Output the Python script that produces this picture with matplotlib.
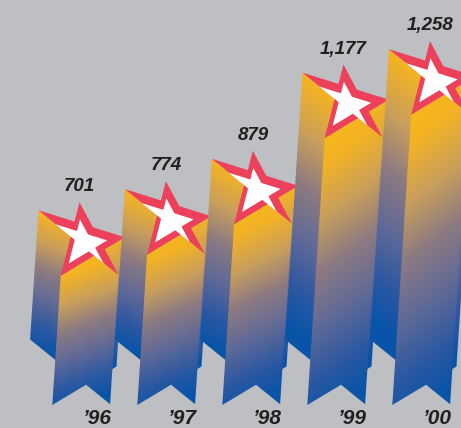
import numpy as np
import matplotlib.pyplot as plt
from matplotlib.colors import LinearSegmentedColormap
from matplotlib.patches import Polygon

years = ["\u201996", "\u201997", "\u201998", "\u201999", "\u201900"]
values = [701, 774, 879, 1177, 1258]
value_labels = ["701", "774", "879", "1,177", "1,258"]

# layout scale: px between columns, px per unit of value
PX_CAT = 85.0
PX_UNIT = 0.2892
LEAN = 0.065          # sideways drift of the extrusion per px of height
BASE_PX = 23.0        # px of room below the baseline
X0_PX = 52.3          # px from left edge to the first column

# star tips in px relative to the upper tip (y pointing down):
# top, right, lower right, lower left, left
TIPS = np.array([(0.0, 0.0), (45.4, 35.0), (39.0, 72.7), (-18.8, 73.5), (-41.0, 8.0)])

BG = "#BEBFC3"
RED = "#EC405B"
TEXT = "#231F20"

grad = LinearSegmentedColormap.from_list("star_col", [
    (0.00, (248/255, 184/255, 24/255)),
    (0.12, (242/255, 178/255, 38/255)),
    (0.30, (200/255, 158/255, 92/255)),
    (0.48, (140/255, 122/255, 130/255)),
    (0.66, (98/255, 106/255, 150/255)),
    (0.85, (44/255, 88/255, 162/255)),
    (1.00, (8/255, 84/255, 168/255)),
])


def intersect(p1, p2, p3, p4):
    d1 = p2 - p1
    d2 = p4 - p3
    a = np.array([[d1[0], -d2[0]], [d1[1], -d2[1]]])
    t, _ = np.linalg.solve(a, p3 - p1)
    return p1 + t * d1


def star_outline(tips):
    # outer tips plus the inner corners where the pentagram lines cross
    pts = []
    for k in range(5):
        pts.append(tips[k])
        pts.append(intersect(tips[k], tips[(k + 2) % 5], tips[(k + 1) % 5], tips[(k - 1) % 5]))
    return np.array(pts)


OUTLINE = star_outline(TIPS)
centre = TIPS.mean(axis=0)
INNER = (OUTLINE - centre) * 0.6 + centre + np.array([-1.5, 2.0])

# which sides of the prism face the viewer, grouped into unbroken strips
visible = []
for k in range(10):
    d = OUTLINE[(k + 1) % 10] - OUTLINE[k]
    visible.append(-LEAN * d[1] - d[0] > 0)
strips = []
for k in range(10):
    if not visible[k]:
        continue
    if strips and strips[-1][-1] == k:
        strips[-1].append((k + 1) % 10)
    else:
        strips.append([k, (k + 1) % 10])

fig = plt.figure(figsize=(4.61, 4.28), dpi=100, facecolor=BG)
ax = fig.add_axes([0, 0, 1, 1])
ax.set_facecolor(BG)
ax.axis("off")

zo = 1
for i, v in enumerate(values):
    L = v * PX_UNIT - TIPS[3][1]                     # extrusion length, px
    tip_x = i + (LEAN * L - TIPS[3][0]) / PX_CAT
    top = np.column_stack([tip_x + OUTLINE[:, 0] / PX_CAT, v - OUTLINE[:, 1] / PX_UNIT])
    ext = np.array([-LEAN * L / PX_CAT, -L / PX_UNIT])

    faces = []
    for s in strips:
        upper = top[s]
        poly = np.vstack([upper, (upper + ext)[::-1]])
        d = OUTLINE[s[-1]] - OUTLINE[s[0]]
        nrm = np.array([d[1], -d[0]])
        left_side = nrm[0] < -0.6 * np.hypot(*nrm)
        faces.append((-upper[:, 1].mean(), poly, left_side))
    faces.sort(key=lambda f: f[0])

    for _, poly, left_side in faces:
        x0, x1 = poly[:, 0].min(), poly[:, 0].max()
        y0, y1 = poly[:, 1].min(), poly[:, 1].max()
        gx, gy = np.meshgrid(np.linspace(x0, x1, 40), np.linspace(y0, y1, 300))
        t = (y1 - gy) / (y1 - y0)
        if left_side:
            t = t - 0.2 * (gx - tip_x)
        else:
            t = t + 0.2 * (gx - tip_x)
        t = np.clip(t, 0, 1)
        im = ax.imshow(t, cmap=grad, vmin=0, vmax=1, origin="lower",
                       extent=[x0, x1, y0, y1], aspect="auto",
                       interpolation="bilinear", zorder=zo)
        im.set_clip_path(Polygon(poly, closed=True, transform=ax.transData))
        zo += 1

    inner = np.column_stack([tip_x + INNER[:, 0] / PX_CAT, v - INNER[:, 1] / PX_UNIT])
    ax.add_patch(Polygon(top, closed=True, facecolor=RED, edgecolor="none", zorder=zo))
    ax.add_patch(Polygon(inner, closed=True, facecolor="white", edgecolor="none", zorder=zo + 1))
    zo += 2

    ax.text(tip_x, v + 11 / PX_UNIT, value_labels[i], ha="center", va="baseline",
            fontsize=13.5, fontweight="bold", fontstyle="italic",
            family="Liberation Sans", color=TEXT, zorder=100)
    ax.text(i + 44.4 / PX_CAT, -22.5 / PX_UNIT, years[i], ha="center", va="bottom",
            fontsize=15, fontweight="bold", fontstyle="italic",
            family="Liberation Sans", color=TEXT, zorder=100)

ax.set_xlim(-X0_PX / PX_CAT, (461 - X0_PX) / PX_CAT)
ax.set_ylim(-BASE_PX / PX_UNIT, (428 - BASE_PX) / PX_UNIT)

fig.savefig("out.png", dpi=100, facecolor=BG)
